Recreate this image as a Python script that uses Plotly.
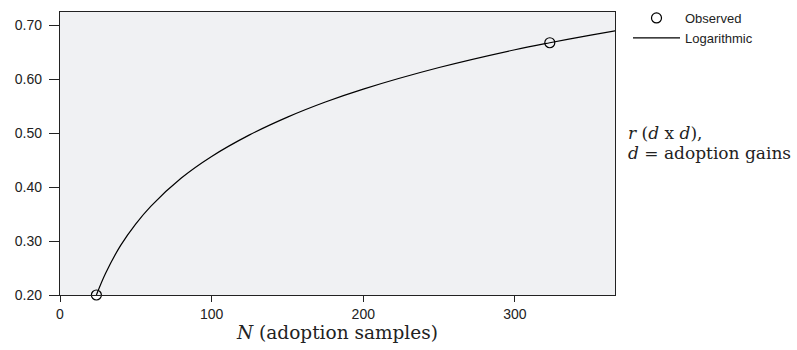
import plotly.graph_objects as go

# Observed points
obs_n = [24, 323]
obs_r = [0.200, 0.668]

# Logarithmic curve, values
log_n = [24, 30, 40, 50, 60, 80, 100, 125, 150, 175, 200, 250, 300, 323, 350, 368]
log_r = [0.200, 0.240, 0.292, 0.332, 0.365, 0.417, 0.457, 0.497, 0.530, 0.558,
         0.582, 0.622, 0.655, 0.668, 0.682, 0.691]

x_ticks = [0, 100, 200, 300]
y_ticks = [0.20, 0.30, 0.40, 0.50, 0.60, 0.70]
y_tick_labels = ["0.20", "0.30", "0.40", "0.50", "0.60", "0.70"]

SERIF = "DejaVu Serif, Liberation Serif, serif"
SANS = "Liberation Sans, Arial, sans-serif"

fig = go.Figure()
fig.add_trace(go.Scatter(
    x=obs_n, y=obs_r, mode="markers", name="Observed",
    marker=dict(symbol="circle-open", size=10, color="black", line=dict(width=1.2)),
    cliponaxis=False,
))
fig.add_trace(go.Scatter(
    x=log_n, y=log_r, mode="lines", name="Logarithmic",
    line=dict(color="black", width=1.2, shape="spline"),
))

fig.update_layout(
    width=797, height=350,
    margin=dict(l=60, r=182, t=11, b=53),
    paper_bgcolor="white",
    plot_bgcolor="#f0f1f3",
    font=dict(family=SANS, color="#222", size=14),
    legend=dict(
        xref="container", yref="container",
        x=628 / 797, xanchor="left", y=1 - 3 / 350, yanchor="top",
        font=dict(size=13, family=SANS, color="#222"),
        bgcolor="rgba(0,0,0,0)", itemwidth=47, tracegroupgap=0,
    ),
    showlegend=True,
)
fig.update_xaxes(
    range=[0, 366], tickvals=x_ticks, showgrid=False, zeroline=False,
    showline=True, linecolor="#222", linewidth=1.3, mirror=True,
    ticks="outside", ticklen=6, tickcolor="#222",
    title=dict(text="<i>N</i> (adoption samples)", standoff=4,
               font=dict(family=SERIF, size=18.5, color="#222")),
)
fig.update_yaxes(
    range=[0.2, 0.725], tickvals=y_ticks, ticktext=y_tick_labels, showgrid=False,
    zeroline=False, showline=True, linecolor="#222", linewidth=1.3, mirror=True,
    ticks="outside", ticklen=10, tickcolor="#222", ticklabelstandoff=4,
)
fig.add_annotation(
    xref="paper", yref="paper", x=1.02, y=0.573, xanchor="left", yanchor="middle",
    text="<i>r</i> (<i>d</i> x <i>d</i>),",
    showarrow=False, align="left",
    font=dict(family=SERIF, size=17, color="#222"),
)
fig.add_annotation(
    xref="paper", yref="paper", x=1.02, y=0.503, xanchor="left", yanchor="middle",
    text="<i>d</i> = adoption gains",
    showarrow=False, align="left",
    font=dict(family=SERIF, size=17, color="#222"),
)

fig.write_html("out.html", config={"displayModeBar": False},
               post_script="document.body.style.margin='0';")
